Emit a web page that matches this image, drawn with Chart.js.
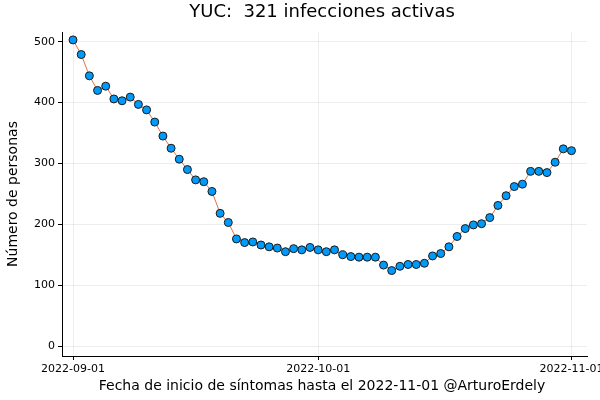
<!DOCTYPE html>
<html><head><meta charset="utf-8">
<script src="https://cdn.jsdelivr.net/npm/chart.js@4"></script>
<style>body{margin:0;background:#fff}#w{width:600px;height:400px}</style>
</head><body><div id="w"><canvas id="c"></canvas></div>
<script>
const values=[503,479,444,420,427,406,403,409,397,388,368,345,325,307,290,273,270,254,218,203,176,170,171,166,163,161,155,160,158,162,158,155,158,150,147,146,146,146,133,124,131,134,134,136,148,152,163,180,193,199,201,211,231,247,262,266,287,287,285,302,324,321];
const xTickPos=[0,30,61];
const xTickLabels=["2022-09-01","2022-10-01","2022-11-01"];
const yTicks=[0,100,200,300,400,500];
const titleText="YUC:  321 infecciones activas";
const xTitle="Fecha de inicio de síntomas hasta el 2022-11-01 @ArturoErdely";
const yTitle="Número de personas";
const F="'DejaVu Sans', sans-serif";
const pts=values.map((v,i)=>({x:i,y:v}));
const textPlugin={id:'t',afterDraw(ch){const c=ch.ctx;c.save();c.fillStyle='#000';c.textAlign='center';c.textBaseline='middle';
c.font="18px "+F;c.fillText(titleText,322,12);
c.font="14px "+F;c.fillText(xTitle,322,386);
c.translate(13,194);c.rotate(-Math.PI/2);c.fillText(yTitle,0,0);c.restore();}};
new Chart(document.getElementById('c'),{type:'scatter',
data:{datasets:[{data:pts,showLine:true,borderColor:'#E26F46',borderWidth:1,pointBackgroundColor:'#009AFA',pointBorderColor:'#1a1a1a',pointBorderWidth:1,pointRadius:4}]},
options:{responsive:true,maintainAspectRatio:false,animation:false,
layout:{padding:{top:32,right:13,left:0,bottom:0}},
plugins:{legend:{display:false},tooltip:{enabled:false}},
scales:{
x:{type:'linear',min:-1.35,max:62.9,afterBuildTicks(a){a.ticks=xTickPos.map(v=>({value:v}));},afterFit(a){a.height=44;a.paddingLeft=0;a.paddingRight=0;},
ticks:{color:'#000',font:{family:F,size:11},maxRotation:0,callback:(v)=>{const i=xTickPos.indexOf(v);return i<0?'':xTickLabels[i];}},
grid:{color:'rgba(0,0,0,0.07)',tickLength:4,tickColor:'#000'},border:{color:'#000'}},
y:{min:-16.4,max:516,afterBuildTicks(a){a.ticks=yTicks.map(v=>({value:v}));},afterFit(a){a.width=62;a.paddingTop=0;a.paddingBottom=0;},
ticks:{color:'#000',font:{family:F,size:11}},
grid:{color:'rgba(0,0,0,0.07)',tickLength:4,tickColor:'#000'},border:{color:'#000'}}}},
plugins:[textPlugin]});
</script></body></html>
